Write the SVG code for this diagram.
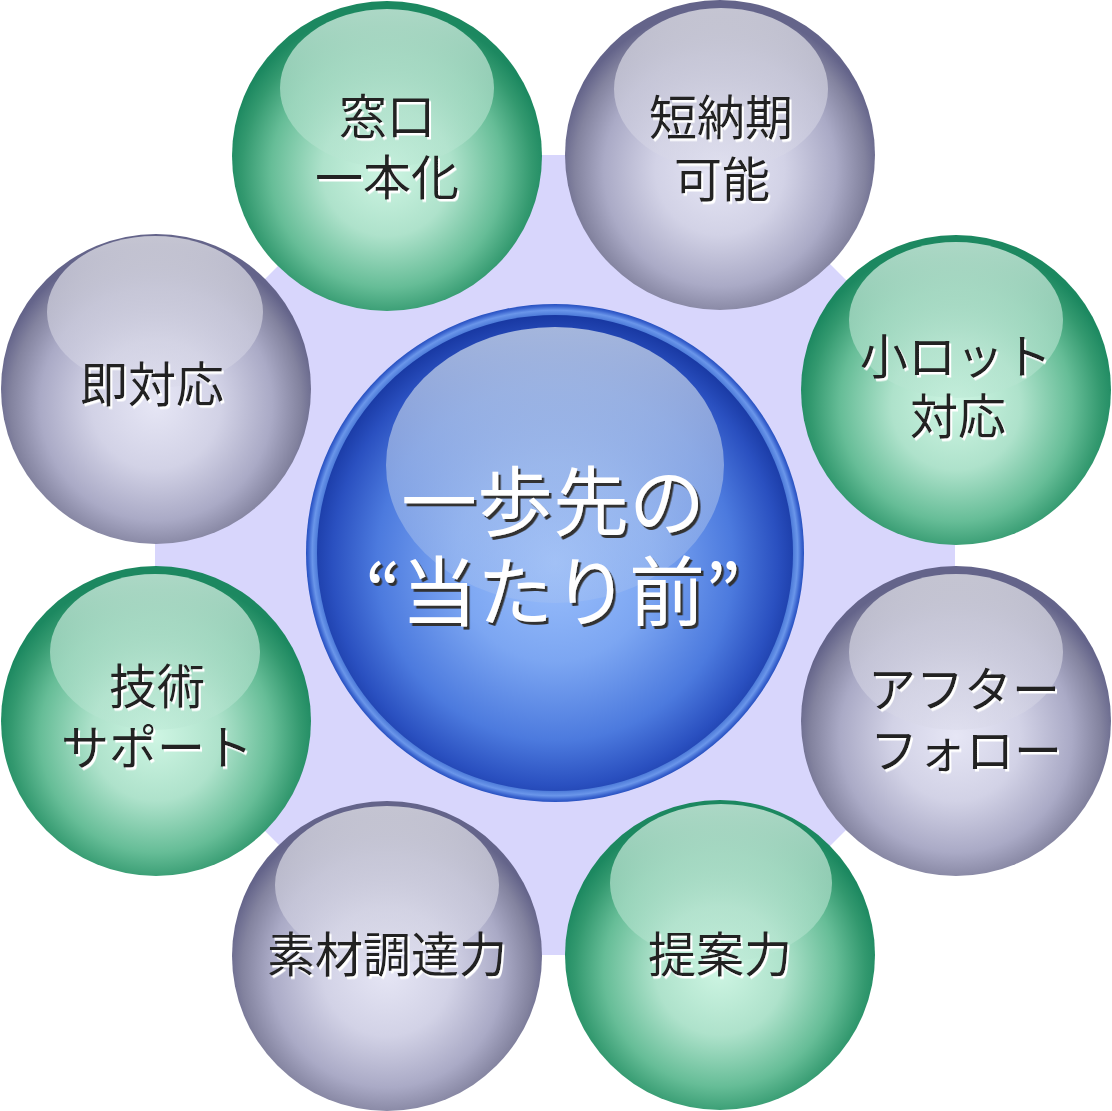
<svg xmlns="http://www.w3.org/2000/svg" width="1112" height="1111" viewBox="0 0 1112 1111">
<defs>
<radialGradient id="gGreen" cx="0.5" cy="0.55" r="0.52">
<stop offset="0" stop-color="#cef5e3"/>
<stop offset="0.4" stop-color="#aee2cb"/>
<stop offset="0.72" stop-color="#66bd97"/>
<stop offset="0.9" stop-color="#33996f"/>
<stop offset="1" stop-color="#1c8860"/>
</radialGradient>
<radialGradient id="gGray" cx="0.5" cy="0.55" r="0.52">
<stop offset="0" stop-color="#e6e6f5"/>
<stop offset="0.4" stop-color="#d2d2e6"/>
<stop offset="0.72" stop-color="#aaaac6"/>
<stop offset="0.9" stop-color="#83839f"/>
<stop offset="1" stop-color="#64648a"/>
</radialGradient>
<linearGradient id="hGreen" x1="0" y1="0" x2="0" y2="1">
<stop offset="0" stop-color="#b4dccb" stop-opacity="0.95"/>
<stop offset="1" stop-color="#b8e6d2" stop-opacity="0.45"/>
</linearGradient>
<linearGradient id="hGray" x1="0" y1="0" x2="0" y2="1">
<stop offset="0" stop-color="#cacad6" stop-opacity="0.95"/>
<stop offset="1" stop-color="#d8d8e8" stop-opacity="0.45"/>
</linearGradient>
<radialGradient id="gRing" cx="0.5" cy="0.5" r="0.5">
<stop offset="0.94" stop-color="#1d44b0"/>
<stop offset="0.955" stop-color="#4c7ad8"/>
<stop offset="0.975" stop-color="#6a96ea"/>
<stop offset="0.99" stop-color="#3c66d0"/>
<stop offset="1" stop-color="#2650c0"/>
</radialGradient>
<radialGradient id="gBlue" cx="0.5" cy="0.52" r="0.52">
<stop offset="0" stop-color="#9cc0fc"/>
<stop offset="0.4" stop-color="#7ca6f2"/>
<stop offset="0.72" stop-color="#4c7ade"/>
<stop offset="0.9" stop-color="#2a50c0"/>
<stop offset="1" stop-color="#1838a2"/>
</radialGradient>
<linearGradient id="hBlue" x1="0" y1="0" x2="0" y2="1">
<stop offset="0" stop-color="#b0c0e0" stop-opacity="0.92"/>
<stop offset="1" stop-color="#a8c2f0" stop-opacity="0.35"/>
</linearGradient>
<filter id="shW" x="-10%" y="-10%" width="130%" height="140%">
<feDropShadow dx="2" dy="2.5" stdDeviation="0" flood-color="#ffffff" flood-opacity="1"/>
</filter>
<filter id="shD" x="-10%" y="-10%" width="130%" height="140%">
<feDropShadow dx="2.5" dy="3" stdDeviation="0" flood-color="#333333" flood-opacity="1"/>
</filter>
</defs>
<style>
.lbl{font-family:"Noto Sans CJK JP","Noto Sans CJK SC",sans-serif;font-size:48px;fill:#222222;text-anchor:middle;filter:url(#shW)}
.ctr{font-family:"Noto Sans CJK JP","Noto Sans CJK SC",sans-serif;font-size:76px;fill:#ffffff;text-anchor:middle;filter:url(#shD)}
.green{fill:url(#gGreen)}
.gray{fill:url(#gGray)}
.hg{fill:url(#hGreen)}
.hy{fill:url(#hGray)}
</style>
<polygon id="backdrop" points="389,155 721,155 955,389 955,721 721,955 389,955 155,721 155,389" fill="#d8d6fc"/>

<g id="center">
<circle cx="555" cy="553" r="249" fill="url(#gRing)"/>
<circle cx="555" cy="553" r="238" fill="url(#gBlue)"/>
<ellipse cx="555" cy="465" rx="169" ry="138" fill="url(#hBlue)"/>
<text class="ctr" x="553" y="530">一歩先の</text>
<text class="ctr" x="553" y="620">“当たり前”</text>
</g>

<g id="node-madoguchi">
<circle class="green" cx="387" cy="156" r="155"/>
<ellipse class="hg" cx="387" cy="88" rx="107" ry="79"/>
<text class="lbl" x="387" y="134">窓口</text>
<text class="lbl" x="387" y="195">一本化</text>
</g>

<g id="node-tannouki">
<circle class="gray" cx="720" cy="155" r="155"/>
<ellipse class="hy" cx="721" cy="89" rx="107" ry="81"/>
<text class="lbl" x="721" y="135">短納期</text>
<text class="lbl" x="722" y="197">可能</text>
</g>

<g id="node-shoulot">
<circle class="green" cx="956" cy="390" r="155"/>
<ellipse class="hg" cx="956" cy="320" rx="107" ry="78"/>
<text class="lbl" x="956" y="374">小ロット</text>
<text class="lbl" x="958" y="434">対応</text>
</g>

<g id="node-after">
<circle class="gray" cx="956" cy="721" r="155"/>
<ellipse class="hy" cx="956" cy="652" rx="107" ry="78"/>
<text class="lbl" x="964" y="707">アフター</text>
<text class="lbl" x="966" y="768">フォロー</text>
</g>

<g id="node-teian">
<circle class="green" cx="720" cy="955" r="155"/>
<ellipse class="hg" cx="721" cy="883" rx="111" ry="79"/>
<text class="lbl" x="720" y="972">提案力</text>
</g>

<g id="node-sozai">
<circle class="gray" cx="387" cy="956" r="155"/>
<ellipse class="hy" cx="387" cy="885" rx="112" ry="79"/>
<text class="lbl" x="387" y="972">素材調達力</text>
</g>

<g id="node-gijutsu">
<circle class="green" cx="156" cy="721" r="155"/>
<ellipse class="hg" cx="155" cy="652" rx="105" ry="78"/>
<text class="lbl" x="157" y="704">技術</text>
<text class="lbl" x="157" y="765">サポート</text>
</g>

<g id="node-sokutaiou">
<circle class="gray" cx="156" cy="389" r="155"/>
<ellipse class="hy" cx="155" cy="312" rx="108" ry="76"/>
<text class="lbl" x="152" y="402">即対応</text>
</g>
</svg>
